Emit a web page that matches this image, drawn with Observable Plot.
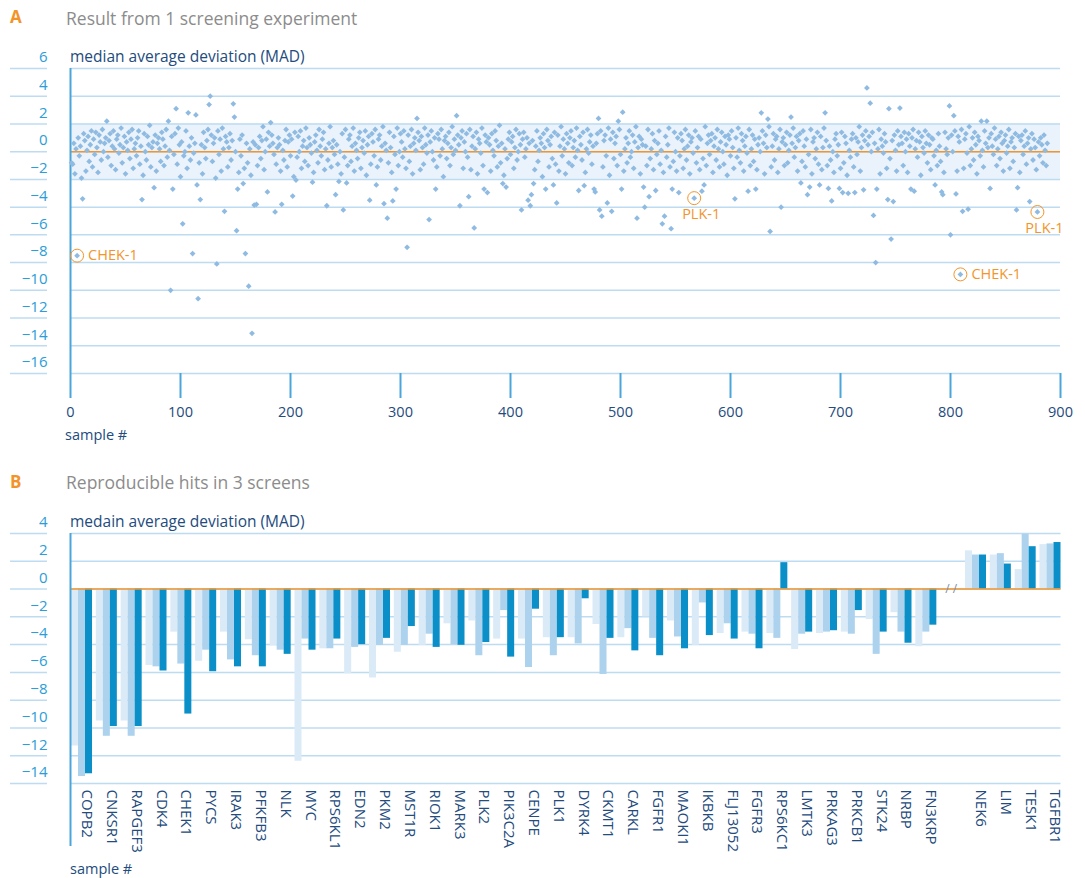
<!DOCTYPE html>
<html><head><meta charset="utf-8">
<script src="https://cdn.jsdelivr.net/npm/d3@7"></script>
<script src="https://cdn.jsdelivr.net/npm/@observablehq/plot@0.6"></script>
<style>
body{margin:0;background:#fff;font-family:"Open Sans",sans-serif;}
#page{position:relative;width:1085px;height:878px;overflow:hidden;background:#fff;}
.abs{position:absolute;white-space:nowrap;line-height:20px;}
.letter{color:#f39428;font-weight:700;font-size:17px;}
.title{color:#8c8c8c;font-size:17.5px;}
.axtitle{color:#234b7d;font-size:14.5px;}
.axtitle.big{font-size:15.5px;}
#page svg{position:absolute;left:0;}
</style></head><body><div id="page">
<div class="abs letter" style="left:10px;top:7px;">A</div>
<div class="abs title" style="left:66px;top:8px;">Result from 1 screening experiment</div>
<div class="abs axtitle big" style="left:70px;top:46px;">median average deviation (MAD)</div>
<div class="abs axtitle" style="left:65px;top:425px;">sample #</div>
<div class="abs letter" style="left:10px;top:472px;">B</div>
<div class="abs title" style="left:66px;top:472px;">Reproducible hits in 3 screens</div>
<div class="abs axtitle big" style="left:70px;top:511px;">medain average deviation (MAD)</div>
<div class="abs axtitle" style="left:70px;top:859px;">sample #</div>
</div>
<script>
// ---------- Panel A data ----------
const sampleRange = [0, 900];
const xTicksA = [0, 100, 200, 300, 400, 500, 600, 700, 800, 900];
const yTicksA = [6, 4, 2, 0, -2, -4, -6, -8, -10, -12, -14, -16];
const hitThreshold = [-2, 2];
const baseline = 0;

// MAD per sample (samples 1..888), within-band cloud
const cloudValues = [
-0.8,-0.9,0.6,-1.6,0.2,-1.2,1.0,-0.3,0.4,-1.9,-0.5,1.3,0.8,-1.4,0.1,1.1,-0.7,0.5,1.5,-1.1,
0.9,-0.2,1.4,0.3,-1.5,1.2,0.7,-0.6,1.6,0.0,0.6,1.0,1.8,-0.4,0.8,1.3,-1.0,0.4,1.5,0.2,
-1.3,0.9,1.2,-0.1,0.5,1.7,-0.8,0.3,1.1,-1.6,0.7,0.1,1.4,-0.5,0.9,1.6,-1.2,0.2,0.6,-0.3,
1.0,1.5,-0.9,0.4,0.8,-1.7,1.3,0.0,-0.6,1.1,0.5,1.9,-1.1,0.3,0.7,-0.2,1.2,-1.4,0.6,1.0,
0.2,-0.7,1.4,0.9,-1.0,0.4,1.6,-0.4,0.8,0.1,-1.5,1.1,0.6,-0.2,1.3,0.3,-0.9,1.7,0.5,-1.8,
0.7,1.2,-0.3,0.0,1.5,-1.2,0.9,0.4,-0.6,1.0,1.8,-0.1,0.6,-1.3,1.3,0.2,-0.8,1.1,0.5,-1.6,
1.4,0.3,-0.5,0.8,1.6,-1.0,0.1,1.2,-0.7,0.6,1.0,-1.9,0.4,1.5,-0.2,0.9,-1.4,1.7,0.2,-0.4,
1.1,0.7,-1.1,0.3,1.3,-0.6,0.8,1.9,-0.9,0.0,0.5,1.4,-1.5,0.9,-0.3,1.2,0.4,-1.2,1.6,0.6,
-0.8,1.0,0.2,-1.7,1.3,0.7,-0.1,0.5,1.5,-1.0,0.3,1.1,-0.5,0.8,1.8,-1.3,0.0,0.9,-0.7,1.4,
0.4,-1.6,1.2,0.6,-0.2,1.7,-0.9,0.3,1.0,0.5,-1.4,1.3,0.1,-0.6,0.8,1.6,-1.1,0.7,1.2,-0.3,
0.9,0.2,-1.8,1.4,0.6,-0.4,1.1,0.0,1.5,-1.2,0.4,0.8,-0.7,1.7,0.3,-1.0,1.0,0.5,-0.1,1.3,
-1.5,0.7,1.2,0.1,-0.8,1.6,0.4,-0.3,0.9,1.4,-1.3,0.2,1.0,-0.6,0.6,1.8,-1.1,0.3,0.8,-0.2,
1.5,0.5,-0.9,1.1,0.0,-1.6,1.3,0.7,-0.4,1.6,0.2,-1.0,0.9,1.2,-0.7,0.4,1.7,-1.4,0.6,0.1,
-0.5,1.0,1.4,-1.2,0.3,0.8,-0.1,1.5,-1.7,0.5,1.1,0.0,-0.9,1.3,0.7,-0.3,1.6,0.2,-1.1,0.9,
1.2,-0.6,0.4,1.8,-1.3,0.6,0.1,1.0,-0.8,1.4,0.3,-1.5,0.8,1.1,-0.2,0.5,1.7,-1.0,0.0,1.3,
0.7,-0.4,1.5,0.2,-1.2,0.9,1.2,-0.7,0.4,1.6,-1.6,0.6,1.0,0.1,-0.5,1.4,0.8,-1.3,1.1,0.3,
-0.9,1.7,0.5,-0.1,1.2,-1.4,0.7,1.5,0.0,-0.6,1.0,0.4,-1.1,1.3,0.9,-0.3,1.6,0.2,-1.8,0.8,
1.1,-0.5,0.6,1.4,-1.0,0.3,1.8,-0.2,0.9,0.1,-1.5,1.2,0.5,-0.8,1.0,1.5,-1.2,0.7,0.0,1.3,
-0.4,0.8,1.6,-1.3,0.4,1.1,-0.7,0.2,1.4,-1.6,0.9,0.6,-0.1,1.7,-1.0,0.3,1.2,0.7,-0.6,1.0,
0.5,-1.4,1.3,0.1,-0.3,1.5,0.8,-1.1,0.4,1.9,-0.8,0.6,1.0,-1.7,0.2,1.2,-0.5,0.9,1.4,-0.2,
0.7,1.1,-1.2,0.3,1.6,-0.6,0.0,1.3,0.5,-1.5,0.9,1.4,-0.4,0.2,1.0,-1.0,0.6,1.7,-0.1,0.8,
1.2,-1.3,0.4,1.5,-0.7,0.1,1.0,0.6,-1.8,1.3,0.3,-0.2,1.6,0.8,-1.1,0.5,1.1,-0.5,0.0,1.4,
-0.9,0.7,1.2,-1.4,0.4,1.8,-0.3,0.9,0.2,-1.6,1.3,0.6,-0.8,1.0,1.5,-1.0,0.3,0.8,-0.4,1.7,
0.1,-1.2,1.1,0.5,-0.6,1.4,0.9,-1.5,0.2,1.6,-0.1,0.7,1.2,-0.9,0.4,1.0,-1.3,0.6,1.3,0.0,
-0.7,1.5,0.3,-1.1,0.8,1.2,-0.3,0.5,1.7,-1.7,0.9,0.1,1.4,-0.5,0.6,1.1,-1.0,0.4,1.6,-0.2,
0.8,1.3,-1.4,0.2,1.0,-0.8,0.6,1.5,-0.4,0.0,1.2,-1.2,0.7,1.8,-0.6,0.3,1.1,-1.6,0.9,0.5,
-0.1,1.4,0.4,-1.0,1.6,0.7,-0.5,0.2,1.3,-1.3,0.8,1.0,-0.2,0.6,1.5,-0.9,0.1,1.2,-1.5,0.9,
1.1,-0.4,0.5,1.7,-1.1,0.3,0.9,-0.7,1.4,0.0,-1.4,1.0,0.6,-0.3,1.3,0.8,-1.2,0.2,1.6,-0.6,
0.4,1.2,-1.6,0.7,1.0,-0.1,0.5,1.5,-0.8,0.3,1.1,-1.3,0.9,1.4,-0.5,0.1,1.8,-1.0,0.6,1.2,
-0.2,0.8,1.3,-1.5,0.4,1.0,-0.6,1.6,0.2,-1.1,0.7,1.4,0.0,-0.9,1.1,0.5,-1.7,1.2,0.9,-0.3,
1.5,0.3,-1.2,0.6,1.0,-0.4,1.7,0.1,-0.8,1.3,0.8,-1.4,0.4,1.1,-0.1,0.7,1.6,-1.0,0.2,1.2,
-0.7,0.9,1.4,-1.3,0.5,1.0,0.0,-0.5,1.5,0.6,-1.6,1.2,0.3,-0.2,1.8,0.8,-1.1,0.4,1.3,-0.6,
0.9,1.1,-1.5,0.2,1.6,-0.3,0.7,1.0,-1.0,0.5,1.4,-0.8,0.1,1.2,-1.2,0.6,1.7,-0.4,0.3,1.1,
-1.4,0.8,1.3,0.0,-0.7,1.5,0.4,-1.1,0.9,1.2,-0.2,0.5,1.6,-1.6,0.7,1.0,-0.5,0.2,1.4,-0.9,
0.6,1.1,-1.3,0.3,1.7,-0.1,0.8,-1.0,1.2,0.4,-0.6,1.5,0.0,-1.5,0.9,1.3,-0.3,0.5,1.0,-1.2,
1.4,0.2,-0.8,1.1,0.6,-1.7,1.6,0.1,-0.4,0.9,1.3,-1.1,0.4,1.0,-0.2,0.7,1.8,-1.4,0.3,1.2,
-0.6,0.8,1.5,-1.0,0.5,1.1,-0.3,0.0,1.4,-1.3,0.6,1.2,-0.7,0.2,1.6,-1.6,0.9,0.4,-0.1,1.3,
0.7,-1.2,1.0,0.3,-0.5,1.7,0.8,-0.9,1.2,0.1,-1.4,1.5,0.5,-0.2,1.1,0.6,-1.0,1.4,0.0,0.9,
-1.5,1.3,0.4,-0.6,1.0,1.6,-1.1,0.2,0.8,-0.4,1.4,0.7,-1.7,1.1,0.3,-0.1,1.5,0.6,-0.8,1.2,
0.5,-1.3,1.0,0.9,-0.3,1.7,0.1,-1.0,1.3,0.4,-0.7,1.1,0.6,-1.5,1.4,0.2,-0.2,1.0,0.8,-1.1,
1.2,0.0,-0.9,1.5,0.3,-1.4,1.1,0.7,-0.5,1.6,0.4,-1.2,0.9,1.3,-0.1,0.6,1.8,-1.0,0.2,1.0,
-0.6,1.4,0.5,-1.6,1.1,0.8,-0.3,1.2,0.1,-1.1,1.5,0.6,-0.8,0.3,1.0,-1.3,1.3,0.4,-0.2,1.7,
0.9,-1.0,0.2,1.1,-0.5,1.4,0.6,-1.4,0.8,1.2,-0.1,0.4,1.6,-1.2,0.7,1.0,-0.7,0.3,1.3,-0.4,
0.5,1.1,-1.5,0.8,1.2,-0.2,0.4,1.5,-0.9,0.6,1.0,-1.1,0.2,1.3,-0.6,0.9,0.3,-1.3,1.4,0.7,
-0.3,1.0,0.5,-0.8,1.2,0.1,-1.0,0.6
];

// out-of-band samples: [sample #, MAD]
const outlierSamples = [6,11,33,65,76,89,91,93,96,102,107,111,114,115,116,118,126,127,133,140,148,149,151,152,157,159,162,165,167,169,179,182,186,192,202,205,220,233,241,244,248,251,272,278,285,288,293,296,306,315,326,332,351,354,362,367,376,379,393,396,410,416,418,419,421,432,439,442,462,467,476,477,480,481,483,488,492,498,501,502,515,521,522,526,532,538,540,546,547,553,567,574,576,604,616,623,628,634,636,646,655,664,670,672,681,686,689,692,699,702,707,713,721,724,727,730,732,733,743,744,746,748,754,764,767,786,792,793,799,800,803,805,809,811,816,828,833,836,860,861,872,879];
const outlierValues = [-7.5,-3.4,2.2,-3.45,-2.6,2.2,-10.0,-2.7,3.1,-5.2,2.8,-7.35,2.65,-2.4,-10.6,-3.45,3.4,4.0,-8.1,-4.3,3.45,2.5,-5.7,-2.7,-2.3,-7.35,-9.7,-13.1,-3.85,-3.8,-2.9,2.1,-4.35,-3.8,-3.2,-2.05,-2.2,-3.9,-3.1,-2.15,-4.2,-2.25,-3.5,-2.4,-3.75,-4.8,-3.55,-2.7,-6.9,2.4,-4.9,-2.7,2.6,-3.9,-3.25,-5.5,-2.7,-2.95,-2.3,-2.55,-4.2,-3.5,-3.9,-3.1,-2.3,-2.7,-2.4,-3.7,-2.8,-2.45,-2.7,-2.9,2.4,-4.2,-4.65,-3.7,-4.3,2.2,-2.7,2.85,-4.8,-2.55,-4.0,-3.25,-2.8,-5.2,-4.65,-5.55,-2.7,-2.95,-3.35,-2.85,-2.4,-3.4,-2.85,-2.7,2.8,2.35,-5.75,-4.0,2.5,-2.25,-3.1,-2.55,-2.4,2.8,-2.65,-3.55,-2.65,-2.95,-3.0,-2.95,-2.75,4.6,3.5,-4.6,-8.0,-2.7,-3.45,3.1,-6.3,-3.6,3.15,-2.7,-2.85,-2.4,-2.9,-3.1,3.3,-6.0,2.6,-3.05,-8.85,-4.3,-4.15,2.2,2.2,-2.65,-4.2,-2.6,-3.6,-4.35];

const annotationSamples = [6, 567, 809, 879];
const annotationLabels = ["CHEK-1", "PLK-1", "CHEK-1", "PLK-1"];
const annotationPlacement = ["right", "below", "right", "below"];

// ---------- Panel B data ----------
const genes = ["COPB2","CNKSR1","RAPGEF3","CDK4","CHEK1","PYCS","IRAK3","PFKFB3","NLK","MYC","RPS6KL1","EDN2","PKM2","MST1R","RIOK1","MARK3","PLK2","PIK3C2A","CENPE","PLK1","DYRK4","CKMT1","CARKL","FGFR1","MAOKI1","IKBKB","FLJ13052","FGFR3","RPS6KC1","LMTK3","PRKAG3","PRKCB1","STK24","NRBP","FN3KRP","","NEK6","LIM","TESK1","TGFBR1"];
const screen1 = [-11.3,-9.5,-9.5,-5.5,-3.1,-5.2,-3.1,-3.65,-4.1,-12.4,-4.3,-6.1,-6.4,-4.55,-4.05,-2.5,-2.3,-3.6,-3.6,-3.5,-3.5,-2.55,-3.5,-2.0,-2.3,-4.05,-3.2,-3.1,-3.2,-4.35,-3.2,-3.1,-2.2,-1.7,-4.15,null,2.75,2.45,1.4,3.2];
const screen2 = [-13.5,-10.6,-10.6,-5.6,-5.4,-4.4,-5.1,-4.8,-4.4,-3.6,-4.3,-4.2,-4.05,-4.05,-3.25,-4.0,-4.8,-1.55,-5.65,-4.8,-3.95,-6.15,-2.85,-3.55,-3.45,-1.0,-2.5,-3.25,-3.55,-3.25,-3.1,-3.25,-4.7,-3.1,-3.1,null,2.45,2.55,3.95,3.25];
const screen3 = [-13.3,-9.9,-9.9,-5.9,-9.0,-5.95,-5.6,-5.6,-4.7,-4.4,-3.6,-4.0,-3.55,-2.7,-4.2,-4.05,-3.85,-4.9,-1.45,-3.5,-0.7,-3.55,-4.45,-4.8,-4.3,-3.35,-3.6,-4.3,1.9,-3.1,-3.0,-1.55,-3.1,-3.9,-2.6,null,2.45,1.8,3.05,3.35];
const yTicksB = [4, 2, 0, -2, -4, -6, -8, -10, -12, -14];
const axisBreakLabel = "/ /";

// ---------- styles ----------
const C = {
  grid: "#bddcf1", tick: "#4aa6da", tickText: "#2b9dd8", navy: "#234b7d",
  dot: "#8fbbe2", band: "#eaf3fb", orange: "#f2952c",
  bar: ["#dbeaf7", "#acd2ee", "#0a8fc8"]
};
const font = {fontFamily: "'Open Sans', sans-serif", fontSize: "14px", background: "transparent", overflow: "visible"};

// ---------- Panel A ----------
const outlierMap = new Map(outlierSamples.map((s, i) => [s, outlierValues[i]]));
const points = cloudValues.map((v, i) => ({sample: i + 1, mad: outlierMap.has(i + 1) ? outlierMap.get(i + 1) : v}));
const annots = annotationSamples.map((s, i) => ({sample: s, mad: points[s - 1].mad, label: annotationLabels[i], place: annotationPlacement[i]}));

const chartA = Plot.plot({
  width: 1085, height: 383,
  marginTop: 28, marginBottom: 50, marginLeft: 70, marginRight: 25,
  style: font,
  x: {domain: sampleRange, label: null},
  y: {domain: [yTicksA[yTicksA.length - 1], yTicksA[0]], label: null},
  marks: [
    Plot.rect([hitThreshold], {x1: sampleRange[0], x2: sampleRange[1], y1: d => d[0], y2: d => d[1], fill: C.band}),
    Plot.gridY(yTicksA, {stroke: C.grid, strokeOpacity: 1, strokeWidth: 1.5}),
    Plot.axisY(yTicksA, {tickSize: 37, dx: -23, tickFormat: () => "", stroke: C.grid, strokeWidth: 1.5, label: null}),
    Plot.axisY(yTicksA, {tickSize: 0, tickPadding: 0, dx: -23, dy: -11, fill: C.tickText, fontSize: 15, label: null}),
    Plot.ruleY([baseline], {stroke: C.orange, strokeWidth: 1.5}),
    Plot.ruleX([sampleRange[0]], {y1: yTicksA[yTicksA.length - 1], y2: yTicksA[0], stroke: C.tick, strokeWidth: 2}),
    Plot.axisX(xTicksA, {tickSize: 25, tickPadding: 8, stroke: C.tick, strokeWidth: 2, fill: C.navy, fontSize: 14.5, label: null}),
    Plot.dot(points, {x: "sample", y: "mad", symbol: "diamond2", r: 2.6, fill: C.dot}),
    Plot.dot(annots, {x: "sample", y: "mad", r: 6.5, stroke: C.orange, strokeWidth: 1, fill: "none"}),
    Plot.text(annots.filter(d => d.place === "right"), {x: "sample", y: "mad", text: "label", dx: 11, textAnchor: "start", fill: C.orange, fontSize: 14.5}),
    Plot.text(annots.filter(d => d.place === "below"), {x: "sample", y: "mad", text: "label", dx: 7, dy: 16, fill: C.orange, fontSize: 14.5})
  ]
});
chartA.style.top = "40px";
document.getElementById("page").appendChild(chartA);

// ---------- Panel B ----------
const groupFrac = 0.846;
const barFrac = groupFrac / 3;
const screens = [screen1, screen2, screen3];
const bars = genes.flatMap((g, i) => screens.map((s, k) => ({gene: g, i, k, value: s[i]}))).filter(d => d.value != null);
const gapIndex = genes.indexOf("");

const chartB = Plot.plot({
  width: 1085, height: 353,
  marginTop: 28, marginBottom: 75, marginLeft: 71, marginRight: 24.5,
  style: font,
  x: {domain: [0, genes.length - 1 + groupFrac], label: null},
  y: {domain: [yTicksB[yTicksB.length - 1], yTicksB[0]], label: null},
  marks: [
    Plot.gridY(yTicksB, {stroke: C.grid, strokeOpacity: 1, strokeWidth: 1.5}),
    Plot.axisY(yTicksB, {tickSize: 37, dx: -24, tickFormat: () => "", stroke: C.grid, strokeWidth: 1.5, label: null}),
    Plot.axisY(yTicksB, {tickSize: 0, tickPadding: 0, dx: -24, dy: -11, fill: C.tickText, fontSize: 15, label: null}),
    Plot.rect(bars, {x1: d => d.i + d.k * barFrac, x2: d => d.i + (d.k + 1) * barFrac, y1: 0, y2: "value", fill: d => C.bar[d.k]}),
    Plot.ruleY([baseline], {stroke: C.orange, strokeWidth: 1.5}),
    Plot.text([gapIndex], {x: d => d + groupFrac / 2, y: baseline, text: () => axisBreakLabel, fill: "#7d8ea8", fontSize: 12}),
    Plot.ruleX([0], {y1: yTicksB[yTicksB.length - 1], y2: yTicksB[0], stroke: C.tick, strokeWidth: 2, dx: -1}),
    Plot.axisX([0], {tickSize: 63, tickFormat: () => "", stroke: C.tick, strokeWidth: 2, dx: -1, label: null}),
    Plot.text(genes, {x: (d, i) => i + groupFrac / 2, frameAnchor: "bottom", text: d => d, rotate: 90, textAnchor: "start", dy: 6, fill: C.navy, fontSize: 15})
  ]
});
chartB.style.top = "505px";
document.getElementById("page").appendChild(chartB);
</script>
</body></html>
